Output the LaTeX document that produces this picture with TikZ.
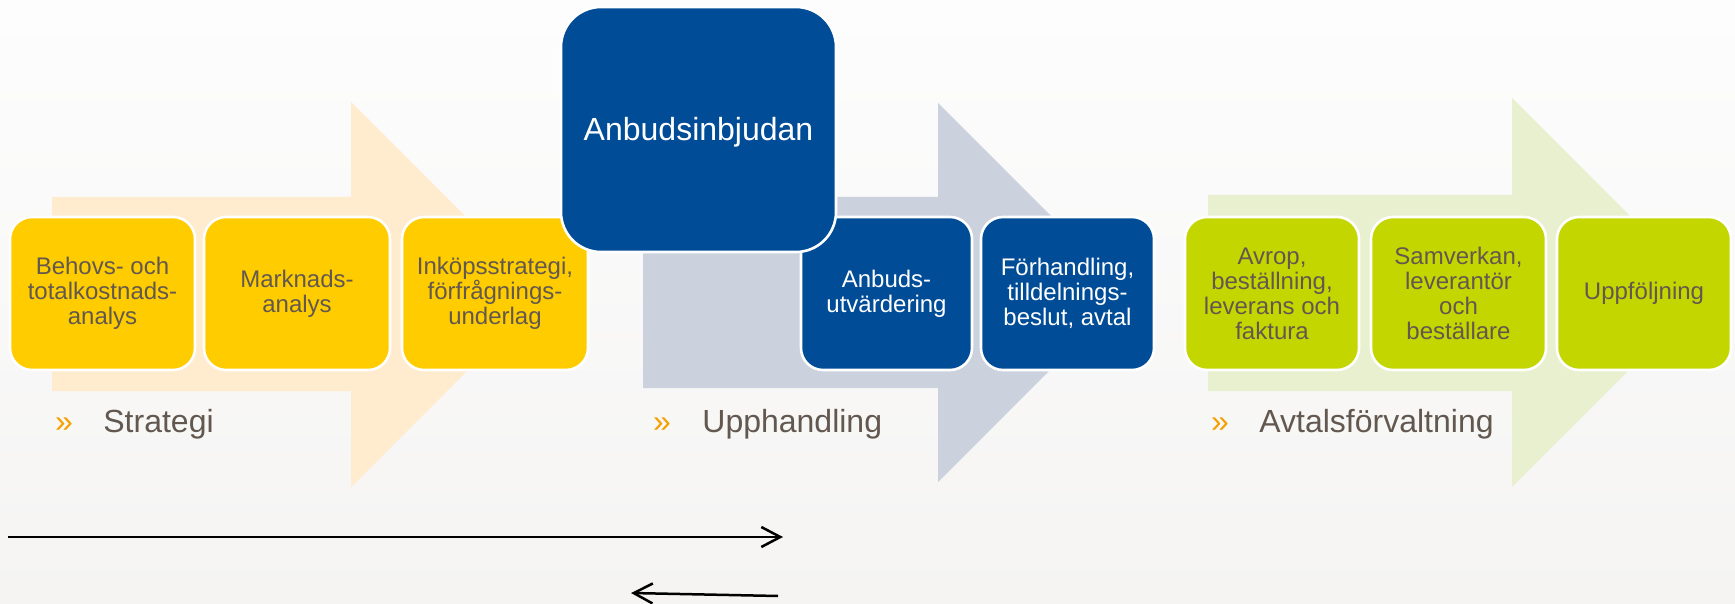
\documentclass[tikz,border=0pt]{standalone}
\usepackage{fontspec}
\setmainfont{Liberation Sans}
\usetikzlibrary{arrows.meta}
\definecolor{bgtop}{HTML}{FDFDFD}
\definecolor{bgbot}{HTML}{F5F4F3}
\definecolor{orlight}{HTML}{FFEBCD}
\definecolor{grlight}{HTML}{CBD1DD}
\definecolor{gnlight}{HTML}{E9F0CF}
\definecolor{yel}{HTML}{FFCC00}
\definecolor{blu}{HTML}{004C97}
\definecolor{grn}{HTML}{C4D600}
\definecolor{txtgray}{HTML}{625850}
\definecolor{chev}{HTML}{F5A000}
\tikzset{
  card/.style={draw=white, line width=1.3pt, rounded corners=11pt, align=center,
    minimum height=76.5pt, inner sep=0pt, font=\fontsize{12}{12.5}\selectfont},
  ycard/.style={card, fill=yel, text=txtgray},
  bcard/.style={card, fill=blu, text=white},
  gcard/.style={card, fill=grn, text=txtgray},
  bigcard/.style={draw=white, line width=1.3pt, rounded corners=20pt, fill=blu, text=white,
    minimum width=137.5pt, minimum height=122.5pt, inner sep=0pt,
    text height=11.5pt, text depth=0pt, font=\fontsize{16}{18}\selectfont},
  chevron/.style={text=chev, inner sep=0pt, anchor=base, font=\fontsize{16}{18}\selectfont},
  phase/.style={text=txtgray, inner sep=0pt, anchor=base west, font=\fontsize{16}{18}\selectfont},
  flowline/.style={line width=1.25pt, black, -{Straight Barb[length=9.5pt,width=10pt,line width=1.25pt]}}
}
\begin{document}
\begin{tikzpicture}[x=0.5pt,y=-0.5pt]
\useasboundingbox (0,0) rectangle (1735,604);
\shade[top color=bgtop, bottom color=bgbot] (0,0) rectangle (1735,604);
% big background arrows
\fill[orlight] (52,197) -- (351,197) -- (351,102) -- (543.5,294.5) -- (351,487) -- (351,391) -- (52,391) -- cycle;
\fill[grlight] (643,197) -- (938,197) -- (938,103) -- (1127.5,292.5) -- (938,482) -- (938,388) -- (643,388) -- cycle;
\fill[gnlight] (1208,195) -- (1512,195) -- (1512,98) -- (1706.5,292.5) -- (1512,487) -- (1512,391) -- (1208,391) -- cycle;
% strategy cards
\node[ycard, minimum width=92.5pt] (s1) at (102.5,293.5) {Behovs- och\\totalkostnads-\\analys};
\node[ycard, minimum width=93pt] (s2) at (297,293.5) {Marknads-\\analys};
\node[ycard, minimum width=93pt] (s3) at (495,293.5) {Inköpsstrategi,\\förfrågnings-\\underlag};
% procurement cards
\node[bcard, minimum width=85.5pt] (u2) at (886.5,293.5) {Anbuds-\\utvärdering};
\node[bcard, minimum width=86.5pt] (u3) at (1067.5,293.5) {Förhandling,\\tilldelnings-\\beslut, avtal};
\node[bigcard] (u1) at (698.5,129.5) {Anbudsinbjudan};
% contract management cards
\node[gcard, minimum width=87pt] (a1) at (1272,293.5) {Avrop,\\beställning,\\leverans och\\faktura};
\node[gcard, minimum width=87.5pt] (a2) at (1458.5,293.5) {Samverkan,\\leverantör\\och\\beställare};
\node[gcard, minimum width=87pt] (a3) at (1644,293.5) {Uppföljning};
% phase labels
\node[chevron] (c1) at (64,432) {»};
\node[phase] (p1) at (103,432) {Strategi};
\node[chevron] (c2) at (662,432) {»};
\node[phase] (p2) at (702,432) {Upphandling};
\node[chevron] (c3) at (1220,432) {»};
\node[phase] (p3) at (1259,432) {Avtalsförvaltning};
% bottom arrows
\coordinate (l1s) at (8,537);
\coordinate (l1e) at (783,537);
\coordinate (l2s) at (778,596);
\coordinate (l2e) at (631,593);
\draw[flowline] (l1s) -- (l1e);
\draw[flowline] (l2s) -- (l2e);
\end{tikzpicture}
\end{document}
